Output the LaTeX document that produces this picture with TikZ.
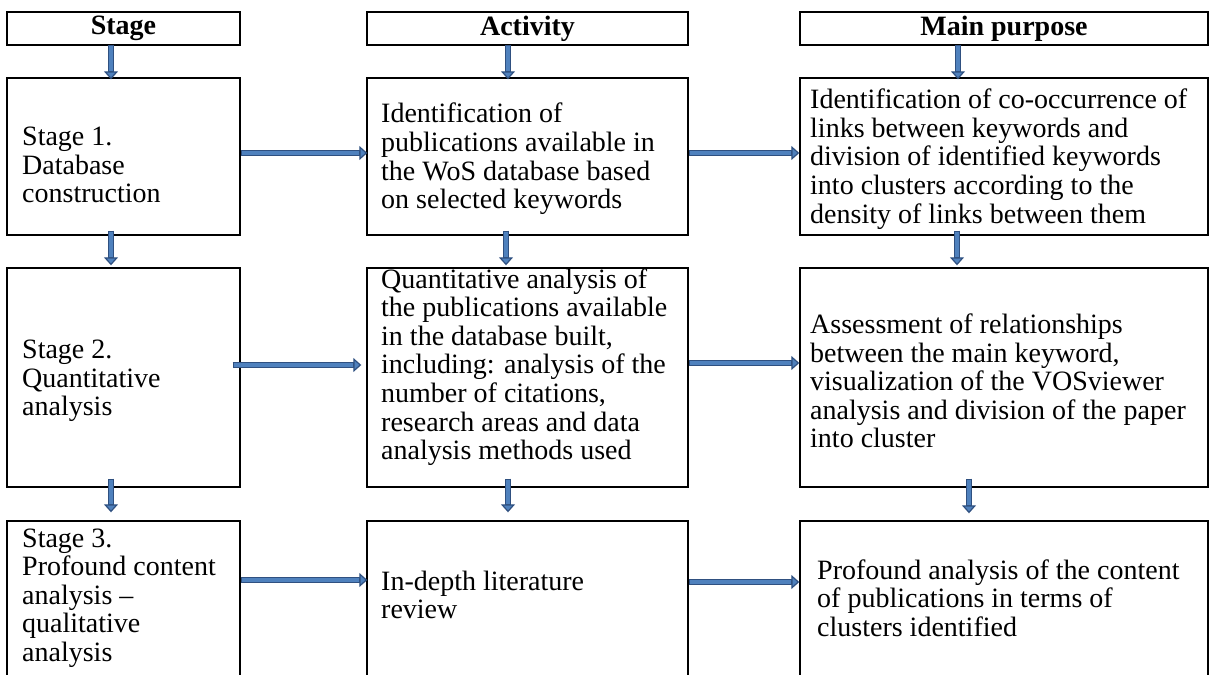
\documentclass[tikz,border=0pt]{standalone}
\usepackage{fontspec}
\setmainfont{Liberation Serif}
\usetikzlibrary{arrows.meta,calc}
\definecolor{arrblue}{HTML}{4F81BD}
\definecolor{arrdark}{HTML}{2F5080}
\begin{document}
\begin{tikzpicture}[x=1pt,y=-1pt,
  box/.style={draw=black, line width=1.4pt, rectangle, inner sep=0pt},
  txt/.style={anchor=west, align=left, inner sep=0pt, font=\fontsize{28}{28.6}\selectfont},
  head/.style={box, font=\fontsize{28}{28.6}\selectfont\bfseries},
  arr/.style={draw=arrdark, line width=6.4pt,
    -{Triangle[length=8pt,width=14pt,line width=1.2pt,fill=arrblue]},
    postaction={draw=arrblue, line width=3.4pt, -, shorten >=8.6pt, shorten <=1.4pt}}]
\useasboundingbox (0,0) rectangle (1211,675);
\clip (0,0) rectangle (1211,675);
% headers
\node[head, minimum width=233pt, minimum height=33pt] (hs) at (123.5,28.5) {Stage};
\node[head, minimum width=321pt, minimum height=33pt] (ha) at (527.5,28.5) {Activity};
\node[head, minimum width=408pt, minimum height=33pt] (hm) at (1004,28.5) {Main purpose};
% row 1
\node[box, minimum width=233pt, minimum height=157pt] (s1) at (123.5,156.5) {};
\node[box, minimum width=321pt, minimum height=157pt] (a1) at (527.5,156.5) {};
\node[box, minimum width=408pt, minimum height=157pt] (m1) at (1004,156.5) {};
% row 2
\node[box, minimum width=233pt, minimum height=219pt] (s2) at (123.5,377.5) {};
\node[box, minimum width=321pt, minimum height=219pt] (a2) at (527.5,377.5) {};
\node[box, minimum width=408pt, minimum height=219pt] (m2) at (1004,377.5) {};
% row 3
\node[box, minimum width=233pt, minimum height=179pt] (s3) at (123.5,610.5) {};
\node[box, minimum width=321pt, minimum height=179pt] (a3) at (527.5,610.5) {};
\node[box, minimum width=408pt, minimum height=179pt] (m3) at (1004,610.5) {};
% texts
\node[txt] (s1t) at (22,165) {Stage 1.\\Database\\construction};
\node[txt] (a1t) at (381,159) {Identification of\\publications available in\\the WoS database based\\on selected keywords};
\node[txt] (m1t) at (810,159) {Identification of co-occurrence of\\links between keywords and\\division of identified keywords\\into clusters according to the\\density of links between them};
\node[txt] (s2t) at (22,381) {Stage 2.\\Quantitative\\analysis};
\node[txt] (a2t) at (381,367) {Quantitative analysis of\\the publications available\\in the database built,\\including: analysis of the\\number of citations,\\research areas and data\\analysis methods used};
\node[txt] (m2t) at (810,381) {Assessment of relationships\\between the main keyword,\\visualization of the VOSviewer\\analysis and division of the paper\\into cluster};
\node[txt] (s3t) at (22,598) {Stage 3.\\Profound content\\analysis –\\qualitative\\analysis};
\node[txt] (a3t) at (381,595) {In-depth literature\\review};
\node[txt] (m3t) at (817,598) {Profound analysis of the content\\of publications in terms of\\clusters identified};
% vertical arrows
\draw[arr] ($(hs.south)+(-12.5,-1)$) -- ($(s1.north)+(-12.5,2)$);
\draw[arr] ($(ha.south)+(-19.5,-1)$) -- ($(a1.north)+(-19.5,2)$);
\draw[arr] ($(hm.south)+(-46,-1)$) -- ($(m1.north)+(-46,2)$);
\draw[arr] ($(s1.south)+(-12.5,-5)$) -- ($(s2.north)+(-12.5,-2)$);
\draw[arr] ($(a1.south)+(-21.5,-5)$) -- ($(a2.north)+(-21.5,-2)$);
\draw[arr] ($(m1.south)+(-47,-5)$) -- ($(m2.north)+(-47,-2)$);
\draw[arr] ($(s2.south)+(-12.5,-9)$) -- ($(s3.north)+(-12.5,-8)$);
\draw[arr] ($(a2.south)+(-19.5,-9)$) -- ($(a3.north)+(-19.5,-8)$);
\draw[arr] ($(m2.south)+(-35,-9)$) -- ($(m3.north)+(-35,-7)$);
% horizontal arrows
\draw[arr] ($(s1.east)+(0,-3.5)$) -- ($(a1.west)+(1,-3.5)$);
\draw[arr] ($(a1.east)+(0,-3.5)$) -- ($(m1.west)+(0,-3.5)$);
\draw[arr] ($(s2.east)+(-8,-12.5)$) -- ($(a2.west)+(-5,-12.5)$);
\draw[arr] ($(a2.east)+(0,-14.5)$) -- ($(m2.west)+(0,-14.5)$);
\draw[arr] ($(s3.east)+(0,-30.5)$) -- ($(a3.west)+(1,-30.5)$);
\draw[arr] ($(a3.east)+(0,-28.5)$) -- ($(m3.west)+(0,-28.5)$);
\end{tikzpicture}
\end{document}
